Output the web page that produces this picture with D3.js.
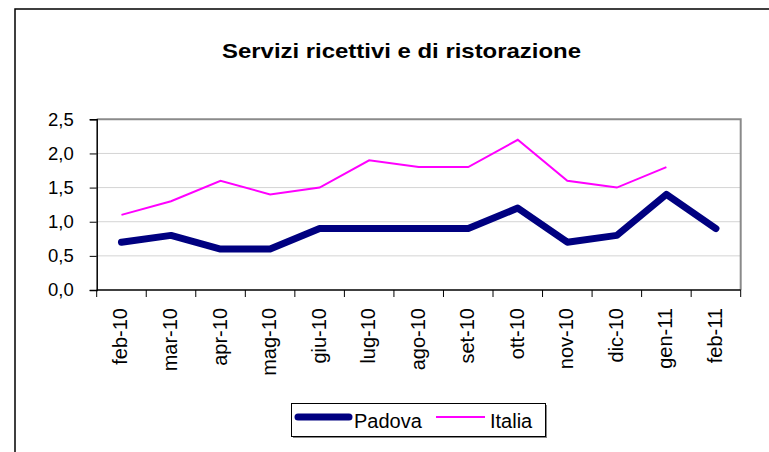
<!DOCTYPE html>
<html lang="it">
<head>
<meta charset="UTF-8">
<title>Servizi ricettivi e di ristorazione</title>
<style>
  body { margin: 0; background: #fff; }
  svg { display: block; font-family: "Liberation Sans", Arial, sans-serif; }
</style>
</head>
<body>
<div id="chart"></div>
<script src="https://d3js.org/d3.v7.min.js"></script>
<script>
  const months = ['feb-10', 'mar-10', 'apr-10', 'mag-10', 'giu-10', 'lug-10', 'ago-10',
                  'set-10', 'ott-10', 'nov-10', 'dic-10', 'gen-11', 'feb-11'];
  const padova = [0.7, 0.8, 0.6, 0.6, 0.9, 0.9, 0.9, 0.9, 1.2, 0.7, 0.8, 1.4, 0.9];
  const italia = [1.1, 1.3, 1.6, 1.4, 1.5, 1.9, 1.8, 1.8, 2.2, 1.6, 1.5, 1.8, null];
  const yTicks = [0, 0.5, 1, 1.5, 2, 2.5];

  const width = 769, height = 452;
  const plot = { left: 96.7, top: 119.3, right: 740.7, bottom: 290 };

  const svg = d3.select('#chart').append('svg')
    .attr('width', width)
    .attr('height', height);

  // outer frame (right/bottom edges fall off the picture)
  svg.append('rect')
    .attr('x', 15).attr('y', 9)
    .attr('width', 780).attr('height', 460)
    .attr('fill', 'none')
    .attr('stroke', '#000')
    .attr('stroke-width', 1.5);

  svg.append('text')
    .attr('x', 222)
    .attr('y', 58)
    .attr('font-size', 21)
    .attr('font-weight', 'bold')
    .attr('textLength', 359)
    .attr('lengthAdjust', 'spacingAndGlyphs')
    .text('Servizi ricettivi e di ristorazione');

  const x = d3.scaleBand()
    .domain(months)
    .range([plot.left, plot.right]);

  const y = d3.scaleLinear()
    .domain([0, 2.5])
    .range([plot.bottom, plot.top]);

  const fmt = d => d3.format('.1f')(d).replace('.', ',');

  // gridlines
  svg.append('g')
    .selectAll('line')
    .data(yTicks.filter(d => d > 0 && d < 2.5))
    .enter()
    .append('line')
    .attr('x1', plot.left).attr('x2', plot.right)
    .attr('y1', d => y(d)).attr('y2', d => y(d))
    .attr('stroke', '#d4d4d4')
    .attr('stroke-width', 1);

  // top and right border of plot area
  svg.append('path')
    .attr('d', `M${plot.left},${y(2.5)}H${plot.right}V${plot.bottom}`)
    .attr('fill', 'none')
    .attr('stroke', '#8a8a8a')
    .attr('stroke-width', 2);

  // y axis
  const yAxis = svg.append('g')
    .attr('transform', `translate(${plot.left},0)`)
    .call(d3.axisLeft(y).tickValues(yTicks).tickFormat(fmt).tickSize(7).tickPadding(16));
  yAxis.select('.domain').attr('stroke', '#000').attr('stroke-width', 1.5);
  yAxis.selectAll('.tick line').attr('stroke', '#000');
  yAxis.selectAll('.tick text')
    .attr('font-size', 18.5)
    .attr('font-family', '"Liberation Sans", Arial, sans-serif')
    .attr('fill', '#000');

  // x axis: ticks at category boundaries
  const xAxis = svg.append('g')
    .attr('transform', `translate(0,${plot.bottom})`);
  xAxis.append('line')
    .attr('x1', plot.left).attr('x2', plot.right)
    .attr('stroke', '#000').attr('stroke-width', 1.5);
  xAxis.selectAll('.xtick')
    .data(months.concat(['end']))
    .enter()
    .append('line')
    .attr('x1', (d, i) => i < months.length ? x(d) : x(months[months.length - 1]) + x.bandwidth())
    .attr('x2', (d, i) => i < months.length ? x(d) : x(months[months.length - 1]) + x.bandwidth())
    .attr('y1', 0).attr('y2', 7)
    .attr('stroke', '#000');
  xAxis.selectAll('.xlabel')
    .data(months)
    .enter()
    .append('text')
    .attr('transform', d => `translate(${x(d) + x.bandwidth() / 2 + 6},18) rotate(-90)`)
    .attr('text-anchor', 'end')
    .attr('font-size', 20)
    .text(d => d);

  const line = d3.line()
    .defined(d => d != null)
    .x((d, i) => x(months[i]) + x.bandwidth() / 2)
    .y(d => y(d));

  svg.append('path')
    .datum(italia)
    .attr('d', line)
    .attr('fill', 'none')
    .attr('stroke', '#ff00ff')
    .attr('stroke-width', 2);

  svg.append('path')
    .datum(padova)
    .attr('d', line)
    .attr('fill', 'none')
    .attr('stroke', '#000080')
    .attr('stroke-width', 7)
    .attr('stroke-linecap', 'round')
    .attr('stroke-linejoin', 'round');

  // legend
  const legend = svg.append('g');
  legend.append('rect')
    .attr('x', 293).attr('y', 405)
    .attr('width', 254).attr('height', 33)
    .attr('fill', '#888');
  legend.append('rect')
    .attr('x', 291.5).attr('y', 403.5)
    .attr('width', 254).attr('height', 33)
    .attr('fill', '#fff')
    .attr('stroke', '#000')
    .attr('stroke-width', 1);

  const items = [
    { name: 'Padova', color: '#000080', w: 7, x1: 298, x2: 349, tx: 354 },
    { name: 'Italia', color: '#ff00ff', w: 2, x1: 436, x2: 485, tx: 490 }
  ];
  items.forEach(it => {
    legend.append('line')
      .attr('x1', it.x1).attr('x2', it.x2)
      .attr('y1', 417).attr('y2', 417)
      .attr('stroke', it.color)
      .attr('stroke-width', it.w)
      .attr('stroke-linecap', it.w > 3 ? 'round' : 'butt');
    legend.append('text')
      .attr('x', it.tx).attr('y', 428)
      .attr('font-size', 20)
      .text(it.name);
  });
</script>
</body>
</html>
